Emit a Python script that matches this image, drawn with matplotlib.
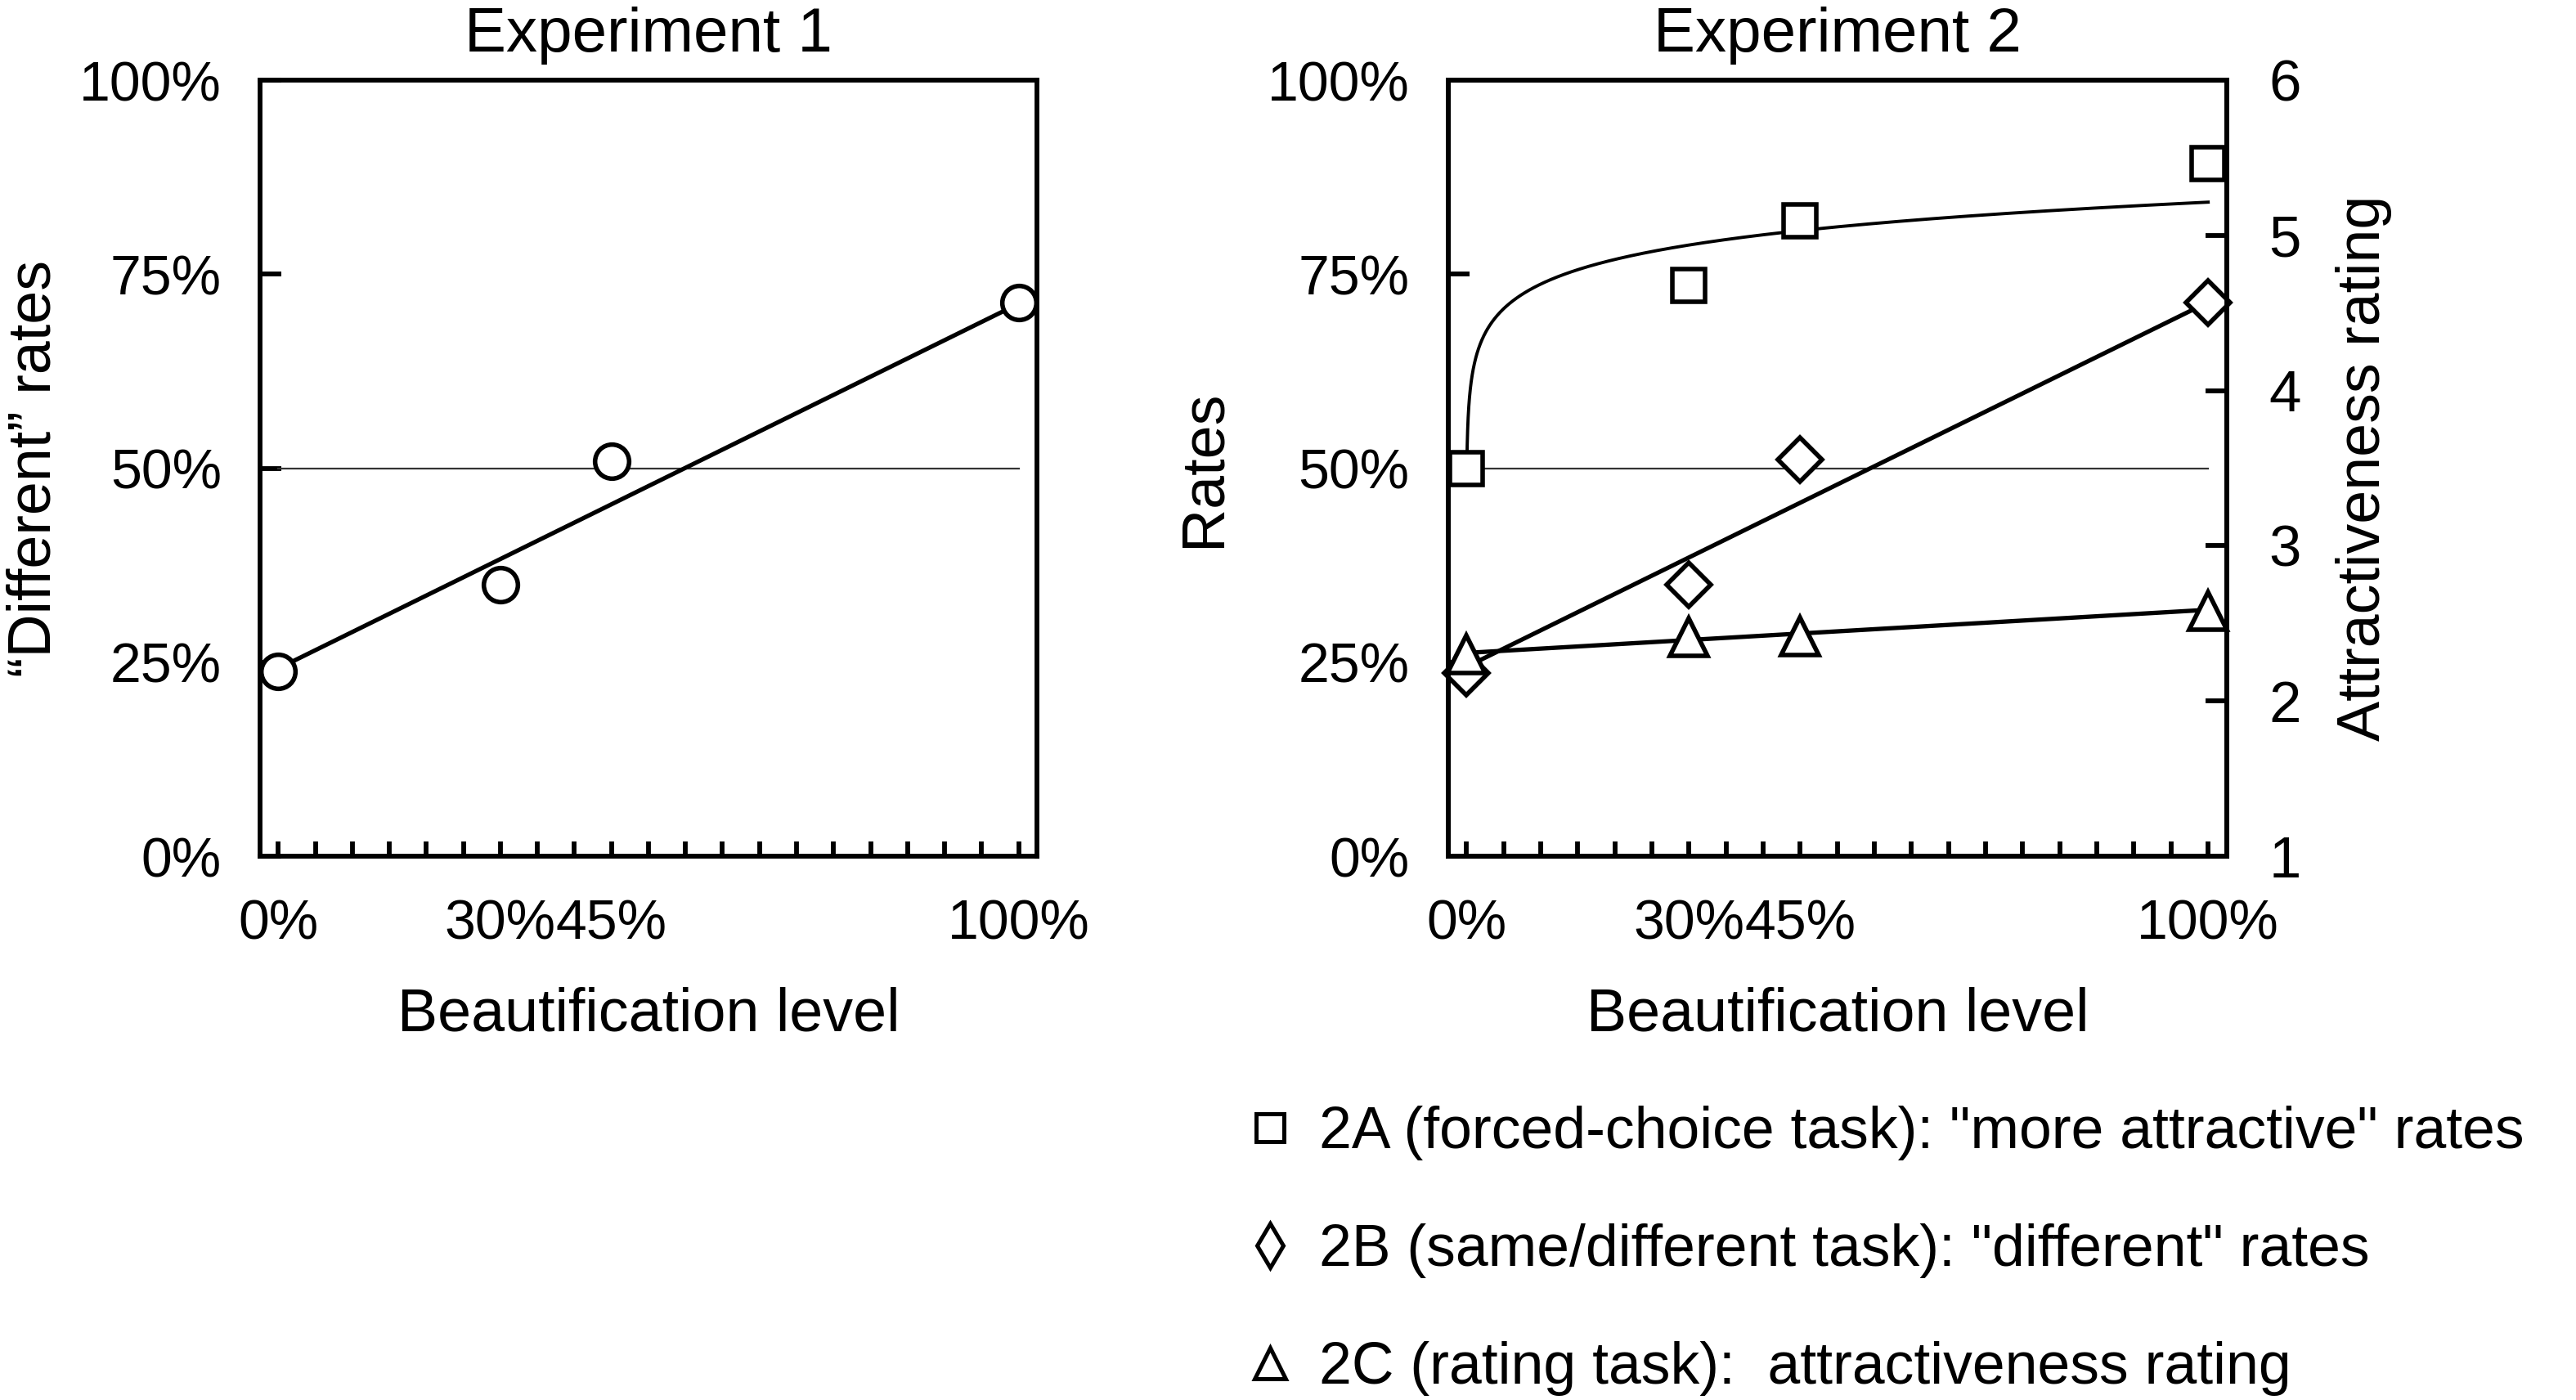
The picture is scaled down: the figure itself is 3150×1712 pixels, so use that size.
import numpy as np
import matplotlib
matplotlib.use("Agg")
import matplotlib.pyplot as plt
from matplotlib.lines import Line2D

plt.rcParams['font.family'] = ['Liberation Sans', 'DejaVu Sans']

# ---------------- data ----------------
levels = [0, 30, 45, 100]                      # beautification level (%)
exp1_different = [23.8, 35.0, 50.9, 71.4]      # Exp 1 "different" rates (%)
exp2a_more_attractive = [50.0, 73.6, 81.9, 89.3]   # 2A rates (%)
exp2b_different = [23.6, 35.0, 51.1, 71.3]         # 2B rates (%)
exp2c_rating = [2.30, 2.41, 2.42, 2.58]            # 2C attractiveness rating

# trendline coefficients
trend1_lin = (24.2, 0.47)        # intercept, slope
trend2b_lin = (24.4, 0.47)
trend2c_lin = (2.31, 0.00278)
trend2a_log = (63.15, 4.59)      # a + b*ln(x)
trend2a_xstart = 0.06

chance_level = 50
level_range = [0, 100]
rate_ticks = [0, 25, 50, 75, 100]
rate_labels = ['0%', '25%', '50%', '75%', '100%']
rating_ticks = [1, 2, 3, 4, 5, 6]
level_ticks = list(range(0, 101, 5))
level_labels = {0: '0%', 30: '30%', 45: '45%', 100: '100%'}

legend_labels = ['2A (forced-choice task): "more attractive" rates',
                 '2B (same/different task): "different" rates',
                 '2C (rating task):  attractiveness rating']

# ---------------- style ----------------
TICK_FS = 49
RTICK_FS = 51
LABEL_FS = 53
TITLE_FS = 55
LEG_FS = 51.5
SPINE_W = 4.2
LINE_W = 3.8
MEW = 4.0

fig = plt.figure(figsize=(31.5, 17.12), dpi=100)
ax1 = fig.add_axes([0.1010, 0.3884, 0.3016, 0.5543])
ax2 = fig.add_axes([0.5622, 0.3884, 0.3022, 0.5543])
ax2r = ax2.twinx()


def style_rate_axis(ax):
    ax.set_xlim(-2.45, 102.5)
    ax.set_ylim(0, 100)
    for s in ax.spines.values():
        s.set_linewidth(SPINE_W)
        s.set_color('black')
    ax.set_xticks(level_ticks)
    ax.set_xticklabels([level_labels.get(t, '') for t in level_ticks])
    ax.set_yticks(rate_ticks)
    ax.set_yticklabels(rate_labels)
    ax.tick_params(axis='x', direction='in', length=13, width=SPINE_W,
                   pad=37, labelsize=TICK_FS, top=False)
    ax.tick_params(axis='y', direction='in', length=19, width=SPINE_W,
                   pad=34, labelsize=TICK_FS, right=False)
    ax.set_xlabel('Beautification level', fontsize=LABEL_FS)
    ax.xaxis.set_label_coords(0.5, -0.168)


# ---------------- Experiment 1 ----------------
style_rate_axis(ax1)
xl = np.array(level_range, dtype=float)
ax1.plot(xl, [chance_level, chance_level], color='#333333', lw=1.6, zorder=2)
ax1.plot(xl, trend1_lin[0] + trend1_lin[1] * xl, color='black', lw=LINE_W,
         solid_capstyle='butt', zorder=3)
ax1.plot(levels, exp1_different, ls='none', marker='o', ms=30, mew=MEW,
         mfc='white', mec='black', zorder=5, clip_on=False)
ax1.set_title('Experiment 1', fontsize=TITLE_FS, pad=25)
ax1.set_ylabel('\u201cDifferent\u201d rates', fontsize=LABEL_FS)
ax1.yaxis.set_label_coords(-0.254, 0.5)

# ---------------- Experiment 2 ----------------
style_rate_axis(ax2)
ax2.plot(xl, [chance_level, chance_level], color='#333333', lw=1.6, zorder=2)
xlog = np.geomspace(trend2a_xstart, level_range[1], 400)
ax2.plot(xlog, trend2a_log[0] + trend2a_log[1] * np.log(xlog), color='black',
         lw=2.8, zorder=3)
ax2.plot(xl, trend2b_lin[0] + trend2b_lin[1] * xl, color='black', lw=LINE_W,
         solid_capstyle='butt', zorder=3)
ax2.plot(levels, exp2a_more_attractive, ls='none', marker='s', ms=28.5, mew=MEW,
         mfc='white', mec='black', zorder=5, clip_on=False)
ax2.plot(levels, exp2b_different, ls='none', marker='D', ms=28, mew=MEW,
         mfc='white', mec='black', zorder=5, clip_on=False)
ax2.set_title('Experiment 2', fontsize=TITLE_FS, pad=25)
ax2.set_ylabel('Rates', fontsize=LABEL_FS)
ax2.yaxis.set_label_coords(-0.278, 0.5)

ax2r.set_ylim(1, 6)
ax2r.set_yticks(rating_ticks)
ax2r.tick_params(axis='y', direction='in', length=19, width=SPINE_W,
                 pad=37, labelsize=RTICK_FS)
for s in ax2r.spines.values():
    s.set_linewidth(SPINE_W)
ax2r.plot(xl, trend2c_lin[0] + trend2c_lin[1] * xl, color='black', lw=LINE_W,
          solid_capstyle='butt', zorder=3)
ax2r.plot(levels, exp2c_rating, ls='none', marker='^', ms=33, mew=MEW,
          mfc='white', mec='black', zorder=5, clip_on=False)
ax2r.set_ylabel('Attractiveness rating', fontsize=LABEL_FS)
ax2r.yaxis.set_label_coords(1.140, 0.5)
ax2r.set_xlim(ax2.get_xlim())

# ---------------- legend ----------------
handles = [
    Line2D([], [], ls='none', marker='s', ms=24, mew=3.6, mfc='white', mec='black'),
    Line2D([], [], ls='none', marker='d', ms=27, mew=3.6, mfc='white', mec='black'),
    Line2D([], [], ls='none', marker='^', ms=27, mew=3.6, mfc='white', mec='black'),
]
fig.legend(handles, legend_labels, loc='upper left',
           bbox_to_anchor=(0.4816, 0.2100), frameon=False, fontsize=LEG_FS,
           handlelength=1.0, handletextpad=0.34, labelspacing=1.07,
           borderpad=0, borderaxespad=0)

fig.savefig('out.png', dpi=100, facecolor='white')
